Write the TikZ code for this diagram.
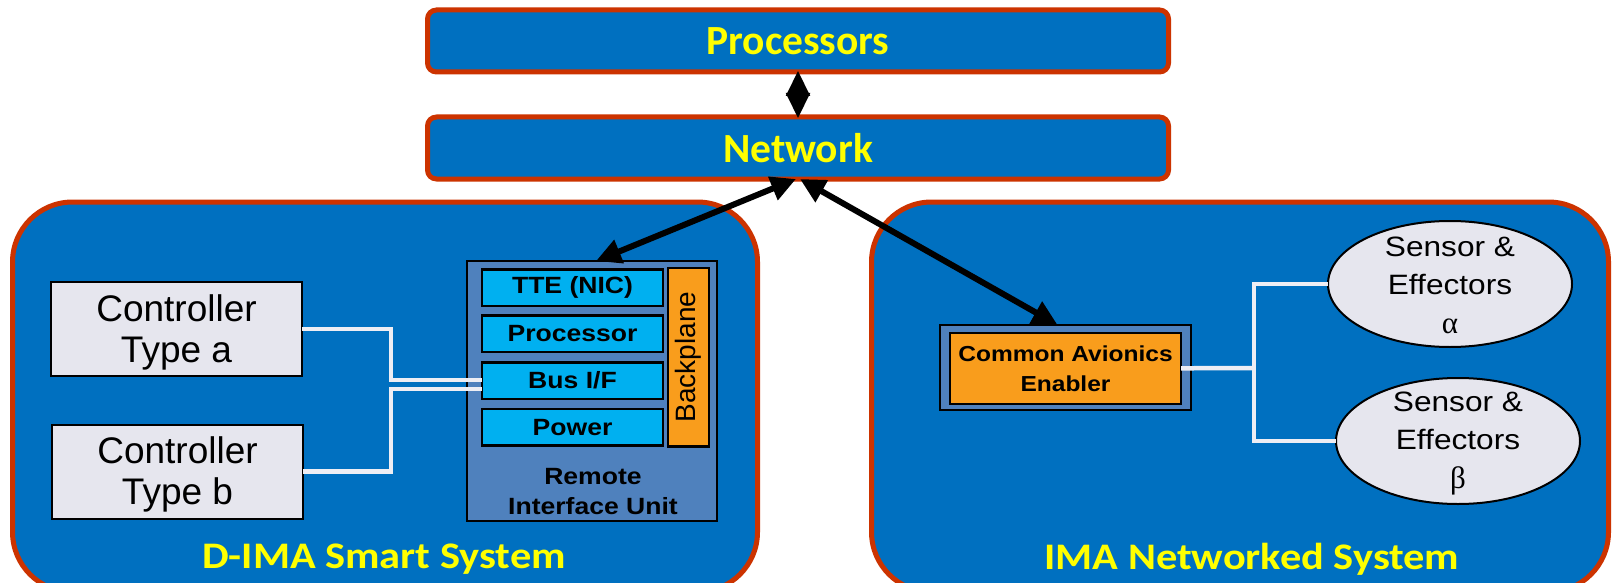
\documentclass[tikz,border=0pt]{standalone}
\usepackage{fontspec}
\setmainfont{Liberation Sans}
\newfontfamily\calfont{Carlito}
\newfontfamily\calwide[FakeStretch=1.13]{Carlito}
\newfontfamily\arwide[FakeStretch=1.13]{Liberation Sans}
\newfontfamily\serfont{Liberation Serif}
\usetikzlibrary{arrows.meta,shapes.geometric}
\definecolor{slideblue}{HTML}{0070C0}
\definecolor{rimred}{HTML}{CC3300}
\definecolor{steel}{HTML}{4F81BD}
\definecolor{cyanbox}{HTML}{00B0F0}
\definecolor{orangebox}{HTML}{F99D1C}
\definecolor{paleg}{HTML}{E6E6EE}
\definecolor{wirec}{HTML}{EEEEF4}
\definecolor{ylw}{HTML}{FFFF00}
\begin{document}
\begin{tikzpicture}[x=1pt,y=-1pt,
  every node/.style={inner sep=0pt, outer sep=0pt},
  bar/.style={draw=rimred, fill=slideblue, line width=5pt, rounded corners=9pt, minimum width=741, minimum height=62},
  sysbox/.style={draw=rimred, fill=slideblue, line width=5pt, rounded corners=60pt},
  ttl/.style={text=ylw, font=\calfont\bfseries\fontsize{41.5}{45}\selectfont},
  systtl/.style={text=ylw, font=\calwide\bfseries\fontsize{37.5}{42}\selectfont, anchor=base},
  ctrl/.style={draw=black, fill=paleg, line width=2pt, minimum width=251, minimum height=94},
  ctrltext/.style={align=center, font=\fontsize{37}{41.7}\selectfont},
  card/.style={draw=black, fill=cyanbox, line width=2.5pt, minimum width=181, minimum height=36.5, font=\arwide\bfseries\fontsize{23.5}{27}\selectfont},
  wire/.style={draw=wirec, line width=4.5pt},
  link/.style={draw=black, line width=6pt, {Triangle[length=25pt,width=24pt]}-{Triangle[length=25pt,width=24pt]}},
  sensor/.style={ellipse, draw=black, fill=paleg, line width=2pt, minimum width=244, minimum height=126},
  sensortext/.style={align=center, font=\arwide\fontsize{28}{38.5}\selectfont},
]
\useasboundingbox (0,0) rectangle (1614,583);
\clip (0,0) rectangle (1614,583);
\fill[white] (0,0) rectangle (1614,583);

% system containers
\node[sysbox, minimum width=745, minimum height=390] (lsys) at (385,397) {};
\node[sysbox, minimum width=737, minimum height=390] (rsys) at (1240,397) {};
\node[systtl] (lt) at (384,568) {D-IMA Smart System};
\node[systtl] (rt) at (1252,569) {IMA Networked System};

% top bars
\node[bar, ttl] (proc) at (798,41) {Processors};
\node[bar, ttl] (net) at (798,148) {Network};
\draw[black, line width=2pt, {Triangle[length=25pt,width=24pt]}-{Triangle[length=25pt,width=24pt]}] ([yshift=1]proc.south) -- ([yshift=-1]net.north);

% controllers
\node[ctrl] (ca) at (176.5,329) {};
\node[ctrltext] (cat) at (176.5,332.5) {Controller\\Type a};
\node[ctrl] (cb) at (177.5,471.5) {};
\node[ctrltext] (cbt) at (177.5,474.5) {Controller\\Type b};

% remote interface unit
\node[draw=black, fill=steel, line width=2pt, minimum width=250, minimum height=260] (riu) at (592,391) {};
\node[card] (tte) at (572.5,287.5) {TTE (NIC)};
\node[card] (cpu) at (572.5,333.8) {Processor};
\node[card] (bus) at (572.5,380.5) {Bus I/F};
\node[card] (pwr) at (572.5,427.2) {Power};
\node[draw=black, fill=orangebox, line width=2.5pt, minimum width=178.5, minimum height=41, rotate=90, font=\fontsize{28}{30}\selectfont] (bp) at (688.3,357) {Backplane};
\node[align=center, font=\arwide\bfseries\fontsize{23.5}{30}\selectfont] (riut) at (593,491.5) {Remote\\Interface Unit};

% wires left
\coordinate (ja) at (391,380);
\coordinate (jb) at (391,389);
\draw[wire] (ca.east) -| (ja) -- (ja -| bus.west);
\draw[wire] (cb.east) -| (jb) -- (jb -| bus.west);

% common avionics enabler
\node[draw=black, fill=steel, line width=2pt, minimum width=251, minimum height=85] (cae) at (1065.5,367.3) {};
\node[draw=black, fill=orangebox, line width=2.5pt, minimum width=231, minimum height=71, align=center, font=\arwide\bfseries\fontsize{21.7}{30}\selectfont] (caei) at (1065.5,368.3) {Common Avionics\\Enabler};

% sensors
\node[sensor] (sa) at (1450,284) {};
\node[sensortext] (sat) at (1450,285) {Sensor \&\\Effectors\\{\serfont\fontsize{31}{38.5}\selectfont α}};
\node[sensor] (sb) at (1458,441) {};
\node[sensortext] (sbt) at (1458,443.5) {Sensor \&\\Effectors\\{\serfont\fontsize{31}{38.5}\selectfont β}};

% wires right
\coordinate (jr) at (1254,368);
\draw[wire] (caei.east) -- (jr);
\draw[wire] (sa.west) -| (jr) |- (sb.west);

% network links
\draw[link] ([xshift=-2]net.south) -- ([xshift=4]riu.north);
\draw[link] ([xshift=2]net.south) -- ([xshift=-8]cae.north);
\end{tikzpicture}
\end{document}
